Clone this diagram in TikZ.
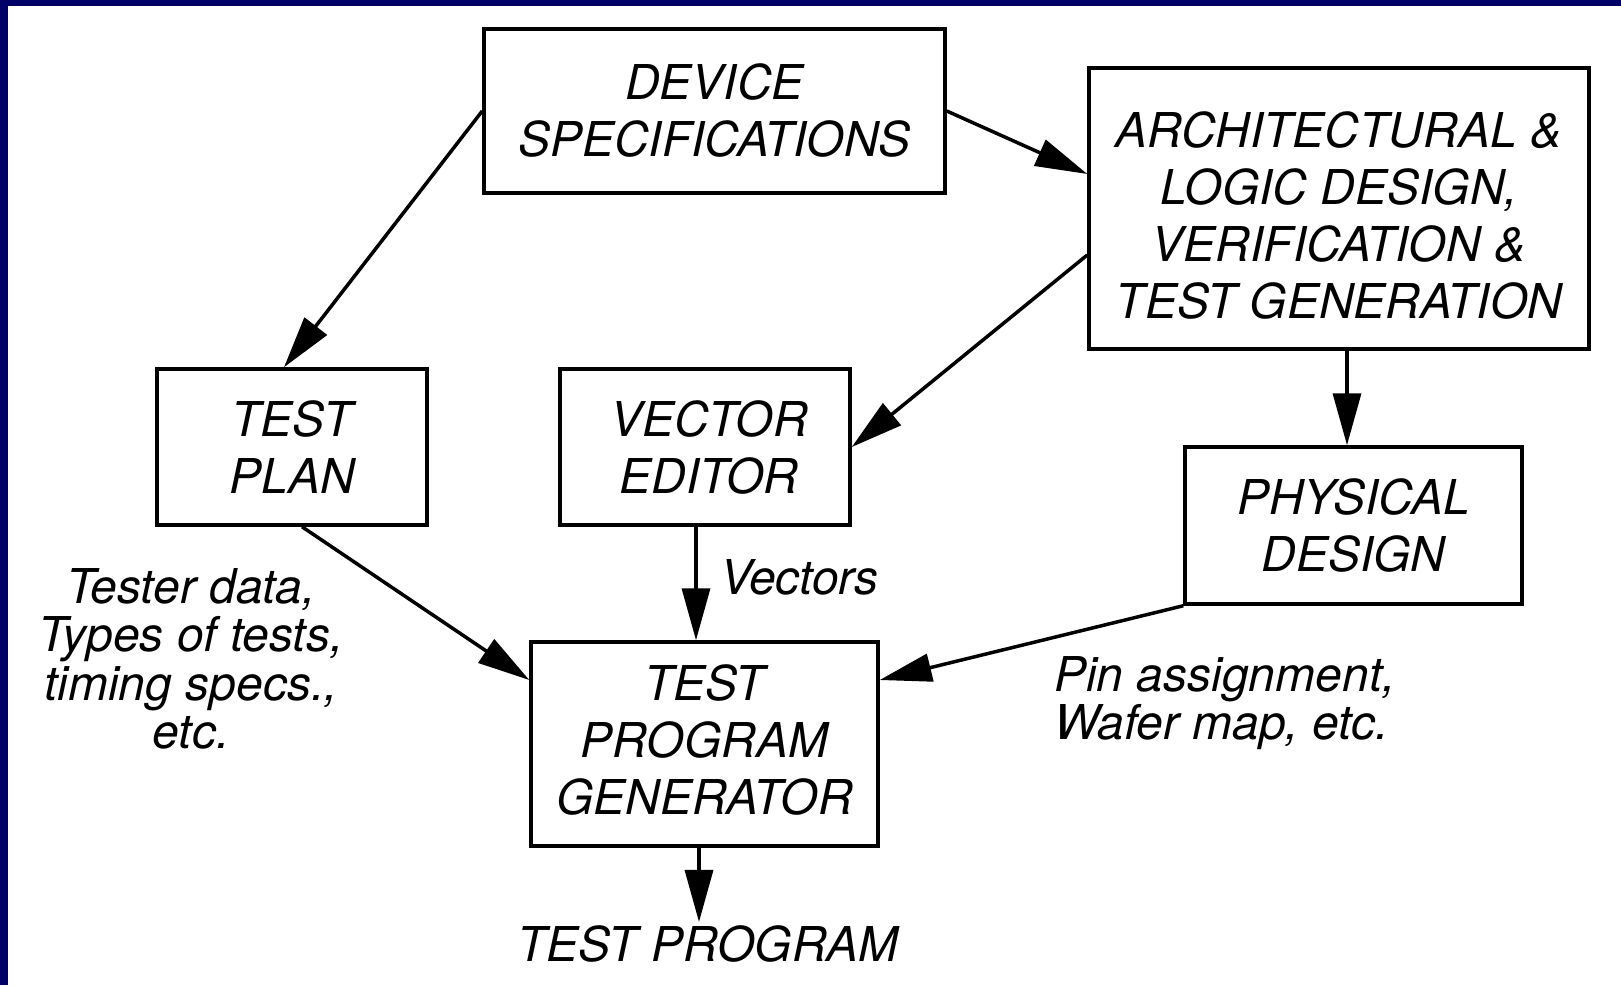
\documentclass[tikz,border=0pt]{standalone}
\usepackage{fontspec}
\setmainfont{TeX Gyre Heros}
\usetikzlibrary{arrows.meta}
\definecolor{framenavy}{RGB}{0,0,102}
\begin{document}
\begin{tikzpicture}[x=1pt,y=-1pt,
  boxtext/.style={inner sep=0pt, align=center,
    font=\fontsize{48}{57}\selectfont\itshape},
  box/.style={boxtext, draw, line width=3.5pt},
  note/.style={inner sep=0pt, font=\fontsize{48}{48.5}\selectfont\itshape},
  flow/.style={line width=3.5pt, -{Triangle[length=52pt,width=28pt]}}]
  % page and frame
  \useasboundingbox (0,0) rectangle (1621,985);
  \fill[white] (0,0) rectangle (1621,985);
  \fill[framenavy] (0,0) rectangle (1621,6);
  \fill[framenavy] (0,0) rectangle (8,985);

  % blocks
  \node[box, minimum width=461pt, minimum height=164pt] (dev) at (714.5,111)
    {DEVICE\\SPECIFICATIONS};
  \node[box, minimum width=500pt, minimum height=281pt] (arch) at (1339,208.5) {};
  \node[boxtext] (archtext) at ([yshift=-7pt]arch.center)
    {ARCHITECTURAL \&\\LOGIC DESIGN,\\VERIFICATION \&\\TEST GENERATION};
  \node[box, minimum width=270pt, minimum height=156pt] (plan) at (292,447)
    {TEST\\PLAN};
  \node[box, minimum width=290pt, minimum height=156pt] (vec) at (705,447)
    {\hspace{8pt}VECTOR\\\hspace{8pt}EDITOR};
  \node[box, minimum width=337pt, minimum height=157pt] (phys) at (1353.5,525.5)
    {PHYSICAL\\DESIGN};
  \node[box, minimum width=347pt, minimum height=204pt] (tpg) at (704.5,744) {};
  \node[boxtext] (tpgtext) at ([yshift=4pt]tpg.center)
    {TEST\\PROGRAM\\GENERATOR};

  % output and annotations
  \node[note, anchor=base] (out) at (708,961) {TEST PROGRAM};
  \node[note, anchor=base west] (vlab) at (720,594) {Vectors};
  \node[note, align=center, anchor=north] (tlab) at (191,568)
    {Tester data,\\Types of tests,\\timing specs.,\\etc.};
  \node[note, align=left, anchor=north west] (plab) at (1054,656)
    {Pin assignment,\\Wafer map, etc.};

  % connectors
  \draw[flow] (dev.west) -- ([xshift=-8pt]plan.north);
  \draw[flow] (dev.east) -- ([yshift=34.5pt]arch.west);
  \draw[flow] ([yshift=-46.5pt]arch.west) -- (vec.east);
  \draw[flow] ([xshift=8pt]arch.south) -- ([xshift=-6.5pt]phys.north);
  \draw[flow] ([xshift=10pt]plan.south) -- ([yshift=64pt]tpg.west);
  \draw[flow] ([xshift=-9pt]vec.south) -- ([xshift=-8.5pt]tpg.north);
  \draw[flow] (phys.south west) -- ([yshift=64pt]tpg.east);
  \draw[flow] ([xshift=-5.5pt]tpg.south) -- ([xshift=-9pt,yshift=3pt]out.north);
\end{tikzpicture}
\end{document}
